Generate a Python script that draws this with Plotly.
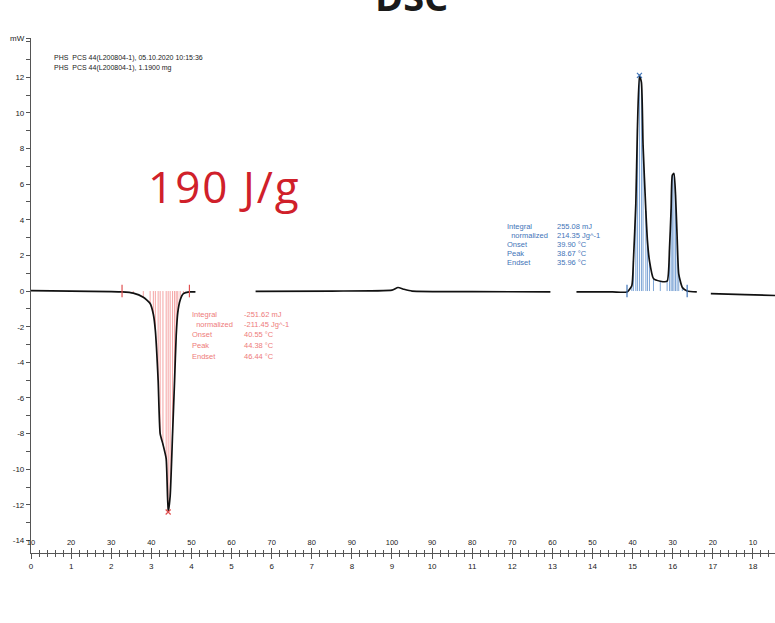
import plotly.graph_objects as go

# ---------------- data ----------------
time_min = [0.0, 1.0, 2.0, 2.27, 2.55, 2.8, 2.97, 3.05, 3.1, 3.17, 3.22, 3.29, 3.37, 3.42,
            3.47, 3.53, 3.58, 3.62, 3.66, 3.72, 3.8, 3.95, 4.1, None,
            5.6, 7.5, 9.0, 9.15, 9.3, 9.5, 11.0, 12.95, None,
            13.6, 14.5, 14.86, 14.98, 15.02, 15.08, 15.12, 15.17, 15.22, 15.26, 15.33, 15.37,
            15.42, 15.52, 15.69, 15.86, 15.92, 15.96, 15.99, 16.03, 16.07, 16.11, 16.15, 16.24,
            16.36, 16.6, None,
            16.95, 17.8, 18.55]
heat_flow_mw = [0.02, 0.0, -0.03, -0.05, -0.12, -0.35, -0.7, -1.3, -2.2, -5.0, -8.0, -8.6, -9.4, -12.4,
                -11.5, -8.0, -5.0, -2.5, -1.2, -0.5, -0.15, -0.05, -0.05, None,
                -0.02, 0.0, 0.05, 0.2, 0.1, 0.0, -0.03, -0.05, None,
                -0.05, -0.05, -0.05, 0.3, 1.7, 4.9, 9.1, 12.1, 11.7, 8.2, 4.5, 2.8,
                1.7, 0.7, 0.55, 0.55, 2.4, 4.6, 6.5, 6.6, 5.4, 3.0, 0.95, 0.2,
                0.0, -0.05, None,
                -0.15, -0.2, -0.25]

melt_limits = [2.27, 3.95]       # integration limits (min)
melt_peak = [3.42, -12.4]
cryst_limits = [14.86, 16.36]
cryst_peak = [15.17, 12.1]

minute_ticks = list(range(0, 19))
temp_labels = ["10", "20", "30", "40", "50", "60", "70", "80", "90", "100",
               "90", "80", "70", "60", "50", "40", "30", "20", "10"]
y_ticks = [-14, -12, -10, -8, -6, -4, -2, 0, 2, 4, 6, 8, 10, 12]

header_lines = ["PHS  PCS 44(L200804-1), 05.10.2020 10:15:36",
                "PHS  PCS 44(L200804-1), 1.1900 mg"]
melt_labels = ["Integral", "  normalized", "Onset", "Peak", "Endset"]
melt_values = ["-251.62 mJ", "-211.45 Jg^-1", "40.55 °C", "44.38 °C", "46.44 °C"]
cryst_labels = ["Integral", "  normalized", "Onset", "Peak", "Endset"]
cryst_values = ["255.08 mJ", "214.35 Jg^-1", "39.90 °C", "38.67 °C", "35.96 °C"]

# ---------------- figure ----------------
W, H = 775, 623
L, R, T, B = 31, 0, 38, 70
PW, PH = W - L - R, H - T - B

def px(x):
    return (x - L) / PW

def py(y):
    return (H - B - y) / PH

RED_LINE = "#f4a3a3"
RED_TXT = "#ee7b7b"
BLUE_LINE = "#7fa6d6"
BLUE_TXT = "#3f74b8"

fig = go.Figure()

def drop_lines(lo, hi):
    xs, ys = [], []
    for t, v in zip(time_min, heat_flow_mw):
        if t is None or v is None:
            continue
        if lo <= t <= hi:
            xs += [t, t, None]
            ys += [0, v, None]
    return xs, ys

mx, my = drop_lines(*melt_limits)
fig.add_trace(go.Scatter(x=mx, y=my, mode="lines", line=dict(color=RED_LINE, width=1),
                         hoverinfo="skip", showlegend=False))
cx, cy = drop_lines(*cryst_limits)
fig.add_trace(go.Scatter(x=cx, y=cy, mode="lines", line=dict(color=BLUE_LINE, width=1),
                         hoverinfo="skip", showlegend=False))

fig.add_trace(go.Scatter(x=time_min, y=heat_flow_mw, mode="lines",
                         line=dict(color="#111111", width=1.7, shape="spline", smoothing=0.5),
                         connectgaps=False, hoverinfo="skip", showlegend=False))

# limit and peak markers
fig.add_trace(go.Scatter(x=melt_limits, y=[0, 0], mode="markers",
                         marker=dict(symbol="line-ns", size=9, line=dict(color="#e05050", width=1.2)),
                         hoverinfo="skip", showlegend=False))
fig.add_trace(go.Scatter(x=[melt_peak[0]], y=[melt_peak[1]], mode="markers",
                         marker=dict(symbol="x-thin", size=5, line=dict(color="#e05050", width=1.2)),
                         hoverinfo="skip", showlegend=False))
fig.add_trace(go.Scatter(x=cryst_limits, y=[0, 0], mode="markers",
                         marker=dict(symbol="line-ns", size=9, line=dict(color="#3f74b8", width=1.2)),
                         hoverinfo="skip", showlegend=False))
fig.add_trace(go.Scatter(x=[cryst_peak[0]], y=[cryst_peak[1]], mode="markers",
                         marker=dict(symbol="x-thin", size=5, line=dict(color="#3f74b8", width=1.2)),
                         hoverinfo="skip", showlegend=False))

# invisible trace to hold the temperature axis
fig.add_trace(go.Scatter(x=[0], y=[0], xaxis="x2", mode="markers", marker=dict(opacity=0),
                         hoverinfo="skip", showlegend=False))

tick_font = dict(family="Liberation Sans", size=8, color="#222222")
AX = "#555555"

fig.update_layout(
    width=W, height=H,
    margin=dict(l=L, r=R, t=T, b=B, autoexpand=False),
    paper_bgcolor="white", plot_bgcolor="white",
    showlegend=False,
    xaxis=dict(range=[0, 18.55], tickvals=minute_ticks, ticks="outside", ticklen=5,
               tickcolor=AX, showline=True, linecolor=AX, linewidth=1.2, automargin=False,
               showgrid=False, zeroline=False, tickfont=tick_font,
               minor=dict(dtick=0.2, tick0=0, ticks="outside", ticklen=3, tickcolor=AX)),
    xaxis2=dict(overlaying="x", matches="x", anchor="y", side="bottom", automargin=False,
                tickvals=minute_ticks, ticktext=temp_labels, ticks="inside", ticklen=5,
                tickcolor=AX, ticklabelposition="inside", ticklabeloverflow="allow",
                showline=False, showgrid=False,
                zeroline=False, tickfont=dict(family="Liberation Sans", size=7.5, color="#222222"),
                minor=dict(dtick=0.2, tick0=0, ticks="inside", ticklen=3, tickcolor=AX)),
    yaxis=dict(range=[-14.7, 14.2], tickvals=y_ticks + [14.2], automargin=False,
               ticktext=[str(v) for v in y_ticks] + ["mW"],
               ticks="outside", ticklen=4, tickcolor=AX, showline=True, linecolor=AX,
               linewidth=1.2, showgrid=False, zeroline=False, tickfont=tick_font,
               minor=dict(dtick=1, tick0=0, ticks="outside", ticklen=4, tickcolor=AX)),
)

ann = []
# title, partially cut at the top (as in the reference)
ann.append(dict(text="<b>DSC</b>", x=px(411), y=py(-4), xref="paper", yref="paper",
                xanchor="center", yanchor="middle", showarrow=False,
                font=dict(family="Open Sans", size=38, color="#1a1a1a")))
ann.append(dict(text='<span style="letter-spacing:2px">190 J/g</span>', x=px(224), y=py(186),
                xref="paper", yref="paper",
                xanchor="center", yanchor="middle", showarrow=False,
                font=dict(family="Open Sans", size=44, color="#d0202a")))
for i, line in enumerate(header_lines):
    ann.append(dict(text=line, x=px(52), y=py(58 + 10 * i), xref="paper", yref="paper",
                    xanchor="left", yanchor="middle", showarrow=False,
                    font=dict(family="Liberation Sans", size=7, color="#222222")))
for i, (lab, val) in enumerate(zip(melt_labels, melt_values)):
    yy = py(314 + 10.5 * i)
    ann.append(dict(text=lab.replace(" ", "&nbsp;"), x=px(190), y=yy, xref="paper", yref="paper",
                    xanchor="left", yanchor="middle", showarrow=False,
                    font=dict(family="Liberation Sans", size=7.5, color=RED_TXT)))
    ann.append(dict(text=val, x=px(242), y=yy, xref="paper", yref="paper",
                    xanchor="left", yanchor="middle", showarrow=False,
                    font=dict(family="Liberation Sans", size=7.5, color=RED_TXT)))
for i, (lab, val) in enumerate(zip(cryst_labels, cryst_values)):
    yy = py(227 + 8.8 * i)
    ann.append(dict(text=lab.replace(" ", "&nbsp;"), x=px(505), y=yy, xref="paper", yref="paper",
                    xanchor="left", yanchor="middle", showarrow=False,
                    font=dict(family="Liberation Sans", size=7.5, color=BLUE_TXT)))
    ann.append(dict(text=val, x=px(555), y=yy, xref="paper", yref="paper",
                    xanchor="left", yanchor="middle", showarrow=False,
                    font=dict(family="Liberation Sans", size=7.5, color=BLUE_TXT)))
fig.update_layout(annotations=ann)

fig.write_html("out.html", config={"displayModeBar": False},
               post_script="document.body.style.margin='0';")
